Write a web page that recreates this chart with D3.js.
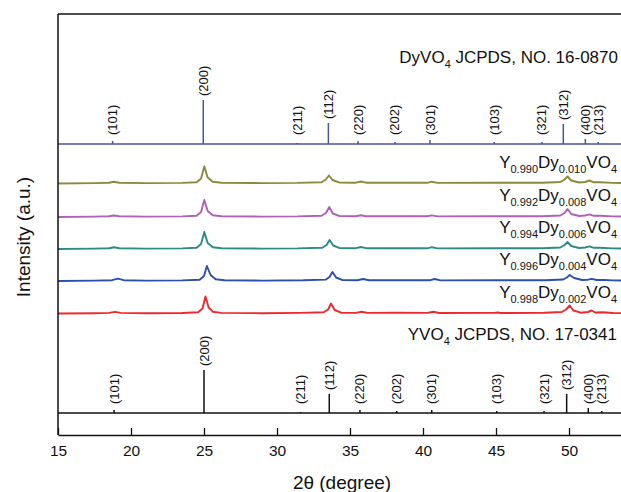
<!DOCTYPE html>
<html>
<head>
<meta charset="utf-8">
<script src="https://cdn.jsdelivr.net/npm/d3@7"></script>
<style>
  html, body { margin: 0; padding: 0; background: #fff; }
  svg text { font-family: "Liberation Sans", Arial, sans-serif; fill: #111; }
</style>
</head>
<body>
<div id="chart"></div>
<script>
const WIDTH = 621;
const HEIGHT = 492;

// x axis ticks (2θ, degree)
const xTicks = [15, 20, 25, 30, 35, 40, 45, 50];

// reflection indices shared by both reference patterns
const hklLabels = ['(101)', '(200)', '(211)', '(112)', '(220)', '(202)',
  '(301)', '(103)', '(321)', '(312)', '(400)', '(213)'];

// DyVO4 JCPDS 16-0870 stick pattern
const dyStickPos = [18.74, 24.95, 31.37, 33.52, 35.55, 38.08, 40.48, 44.88, 48.15, 49.61, 51.12, 52.0];
const dyStickHeight = [3, 44, 1, 21, 3, 2, 4, 2, 2, 20, 5, 2];

// YVO4 JCPDS 17-0341 stick pattern
const yvoStickPos = [18.84, 25.0, 31.62, 33.58, 35.68, 38.2, 40.6, 45.05, 48.29, 49.84, 51.32, 52.24];
const yvoStickHeight = [3, 43, 1, 19, 3, 2, 3, 2, 2, 19, 5, 2];

// vertical offsets of the stacked patterns (a.u.)
const dyStickOffset = 291;
const yvoStickOffset = 22;

// sample compositions, bottom to top
const yFractions = ['0.998', '0.996', '0.994', '0.992', '0.990'];
const dyFractions = ['0.002', '0.004', '0.006', '0.008', '0.010'];
const traceOffsets = [121.5, 154, 186, 218, 251.5];

// measured patterns [2θ, intensity]
const traceY0998 = [
  [15, 0], [17.5, 0.3], [18.5, 0.6], [18.9, 1.6], [19.3, 0.6], [21, 0.3], [23.5, 0.5],
  [24.6, 1.2], [24.9, 5], [25.1, 17], [25.32, 6], [25.6, 1.8], [26.2, 0.6], [29, 0.3],
  [31.6, 0.6], [33.2, 1.2], [33.5, 4], [33.7, 10], [33.95, 3.5], [34.4, 0.8], [35.4, 0.6],
  [35.8, 1.8], [36.2, 0.6], [38.2, 0.8], [40.3, 0.6], [40.7, 1.8], [41.1, 0.5], [44.9, 0.6],
  [45.1, 1.0], [45.3, 0.5], [48.3, 0.8], [49.5, 1.5], [49.8, 4], [50.05, 8], [50.3, 3],
  [50.8, 0.8], [51.3, 1.5], [51.55, 3], [51.8, 1], [52.3, 1.2], [53, 0.5], [53.6, 0.4]
];
const traceY0996 = [
  [15, 0], [17.5, 0.4], [18.7, 0.8], [19.1, 2.4], [19.5, 0.8], [21, 0.4], [23.5, 0.6],
  [24.7, 1.3], [25.0, 5], [25.2, 15], [25.45, 6], [25.8, 1.8], [26.4, 0.7], [29, 0.4],
  [31.8, 0.7], [33.35, 1.4], [33.6, 4], [33.8, 9], [34.05, 3.5], [34.5, 0.9], [35.5, 0.8],
  [35.9, 2], [36.3, 0.8], [38.3, 0.8], [40.5, 0.8], [40.8, 2], [41.2, 0.6], [45, 0.8],
  [48.4, 0.8], [49.6, 1.5], [49.85, 3.5], [50.05, 6], [50.35, 3], [50.9, 1], [51.3, 1.3],
  [51.55, 2.2], [51.9, 1], [52.4, 1], [53, 0.6], [53.6, 0.5]
];
const traceY0994 = [
  [15, 0], [17.5, 0.4], [18.5, 0.8], [18.85, 1.8], [19.2, 0.8], [21, 0.4], [23.5, 0.6],
  [24.5, 1.3], [24.8, 5], [25.02, 17], [25.25, 6], [25.6, 1.8], [26.2, 0.7], [29, 0.4],
  [31.4, 0.6], [33.1, 1.3], [33.4, 4], [33.6, 9], [33.85, 3.5], [34.3, 0.9], [35.4, 0.8],
  [35.75, 2], [36.1, 0.8], [38.1, 0.8], [40.3, 0.7], [40.6, 1.8], [41, 0.6], [44.9, 0.8],
  [48.2, 0.8], [49.4, 1.5], [49.7, 4], [49.9, 7], [50.15, 3], [50.7, 1], [51.1, 1.5],
  [51.4, 2.6], [51.7, 1.2], [52.1, 1.2], [53, 0.6], [53.6, 0.5]
];
const traceY0992 = [
  [15, 0], [17.5, 0.4], [18.5, 0.7], [18.8, 1.5], [19.2, 0.7], [21, 0.4], [23.5, 0.6],
  [24.5, 1.3], [24.8, 5], [25.02, 17], [25.25, 6], [25.6, 1.8], [26.2, 0.7], [29, 0.4],
  [31.4, 0.6], [33.05, 1.3], [33.35, 4], [33.58, 10], [33.82, 3.5], [34.3, 0.9], [35.4, 0.8],
  [35.75, 1.8], [36.1, 0.8], [38.1, 0.8], [40.3, 0.7], [40.6, 1.6], [41, 0.6], [44.9, 0.8],
  [48.2, 0.8], [49.4, 1.5], [49.7, 4], [49.9, 8], [50.15, 3], [50.7, 1], [51.1, 1.5],
  [51.4, 2.6], [51.7, 1.2], [52.1, 1.2], [53, 0.6], [53.6, 0.5]
];
const traceY0990 = [
  [15, 0], [17.5, 0.4], [18.5, 0.8], [18.8, 1.8], [19.2, 0.8], [21, 0.4], [23.5, 0.6],
  [24.5, 1.3], [24.8, 5], [25.02, 17], [25.25, 6], [25.6, 1.8], [26.2, 0.7], [29, 0.4],
  [31.4, 0.6], [33.05, 1.3], [33.35, 4], [33.56, 8], [33.8, 3.5], [34.3, 0.9], [35.4, 0.8],
  [35.75, 2], [36.1, 0.8], [38.1, 0.8], [40.3, 0.7], [40.6, 1.8], [41, 0.6], [44.9, 0.8],
  [48.2, 0.8], [49.4, 1.5], [49.7, 4], [49.9, 7], [50.15, 3], [50.7, 1], [51.1, 1.5],
  [51.4, 3], [51.7, 1.2], [52.1, 1.2], [53, 0.6], [53.6, 0.5]
];
const traces = [traceY0998, traceY0996, traceY0994, traceY0992, traceY0990];

const traceColors = ['#f0282e', '#2a4fae', '#2a8c88', '#b060b8', '#8a8a3c'];
const dyStickColor = '#4a5599';
const yvoStickColor = '#111';

const margin = { top: 14, right: -21, bottom: 57, left: 58 };
const plotRight = WIDTH - margin.right;

const x = d3.scaleLinear().domain([15, 55]).range([margin.left, plotRight]);
const y = d3.scaleLinear().domain([0, 421]).range([HEIGHT - margin.bottom, margin.top]);

const svg = d3.select('#chart')
  .append('svg')
  .attr('width', WIDTH)
  .attr('height', HEIGHT)
  .attr('viewBox', `0 0 ${WIDTH} ${HEIGHT}`);

const line = d3.line()
  .x(d => x(d[0]))
  .y(d => y(d[1]));

// measured patterns
traces.forEach((trace, i) => {
  svg.append('path')
    .datum(trace.map(d => [d[0], d[1] + traceOffsets[i]]))
    .attr('d', line)
    .attr('fill', 'none')
    .attr('stroke', traceColors[i])
    .attr('stroke-width', 1.9)
    .attr('stroke-linejoin', 'round');
});

// sample labels
traceOffsets.forEach((offset, i) => {
  const t = svg.append('text')
    .attr('x', 617)
    .attr('y', y(offset + 16))
    .attr('text-anchor', 'end')
    .attr('font-size', 17);
  t.append('tspan').text('Y');
  t.append('tspan').attr('font-size', 11).attr('dy', 5).text(yFractions[i]);
  t.append('tspan').attr('dy', -5).text('Dy');
  t.append('tspan').attr('font-size', 11).attr('dy', 5).text(dyFractions[i]);
  t.append('tspan').attr('dy', -5).text('VO');
  t.append('tspan').attr('font-size', 11).attr('dy', 5).text('4');
});

drawSticks(dyStickPos, dyStickHeight, dyStickOffset, dyStickColor);
drawSticks(yvoStickPos, yvoStickHeight, yvoStickOffset, yvoStickColor);

drawTitle('DyVO', ' JCPDS, NO. 16-0870', 618, 63);
drawTitle('YVO', ' JCPDS, NO. 17-0341', 617, 340);

// frame
svg.append('line')
  .attr('x1', margin.left).attr('x2', plotRight)
  .attr('y1', margin.top).attr('y2', margin.top)
  .attr('stroke', '#111').attr('stroke-width', 1.5);
svg.append('line')
  .attr('x1', margin.left).attr('x2', margin.left)
  .attr('y1', margin.top).attr('y2', HEIGHT - margin.bottom)
  .attr('stroke', '#111').attr('stroke-width', 1.5);

const xAxis = d3.axisBottom(x)
  .tickValues(xTicks)
  .tickSizeInner(-7)
  .tickSizeOuter(0)
  .tickPadding(10);

const gx = svg.append('g')
  .attr('transform', `translate(0,${HEIGHT - margin.bottom})`)
  .call(xAxis);
gx.select('.domain').attr('stroke', '#111').attr('stroke-width', 1.5);
gx.selectAll('.tick line').attr('stroke', '#111').attr('stroke-width', 1.3);
gx.selectAll('.tick text')
  .attr('font-size', 15.5)
  .attr('fill', '#111');

svg.append('text')
  .attr('x', 342)
  .attr('y', 489)
  .attr('text-anchor', 'middle')
  .attr('font-size', 19)
  .text('2θ (degree)');

svg.append('text')
  .attr('transform', 'translate(30,237) rotate(-90)')
  .attr('text-anchor', 'middle')
  .attr('font-size', 19)
  .text('Intensity (a.u.)');

function drawSticks(positions, heights, offset, color) {
  const g = svg.append('g');
  g.append('line')
    .attr('x1', x(15)).attr('x2', plotRight)
    .attr('y1', y(offset)).attr('y2', y(offset))
    .attr('stroke', color).attr('stroke-width', 1.3);

  g.selectAll('line.stick')
    .data(positions)
    .join('line')
    .attr('class', 'stick')
    .attr('x1', d => x(d)).attr('x2', d => x(d))
    .attr('y1', y(offset))
    .attr('y2', (d, i) => y(offset + heights[i]))
    .attr('stroke', color)
    .attr('stroke-width', 1.5);

  g.selectAll('text')
    .data(positions)
    .join('text')
    .attr('transform', (d, i) => {
      const end = Math.min(y(offset + heights[i]) - 4, y(offset) - 9);
      return `translate(${x(d) + 4.5},${end}) rotate(-90)`;
    })
    .attr('font-size', 13)
    .attr('text-anchor', 'start')
    .text((d, i) => hklLabels[i]);
}

function drawTitle(formula, rest, xEnd, yBase) {
  const t = svg.append('text')
    .attr('x', xEnd)
    .attr('y', yBase)
    .attr('text-anchor', 'end')
    .attr('font-size', 17);
  t.append('tspan').text(formula);
  t.append('tspan').attr('font-size', 11).attr('dy', 5).text('4');
  t.append('tspan').attr('dy', -5).text(rest);
}
</script>
</body>
</html>
